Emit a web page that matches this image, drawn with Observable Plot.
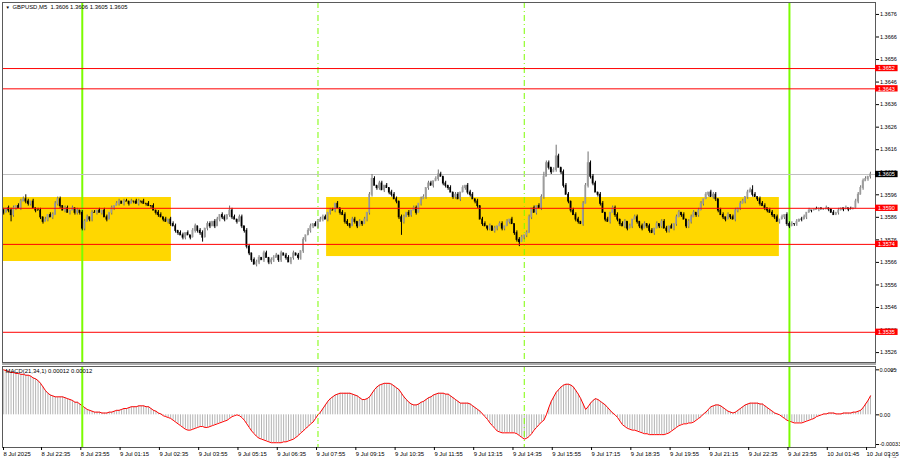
<!DOCTYPE html>
<html><head><meta charset="utf-8">
<script src="https://cdn.jsdelivr.net/npm/d3@7"></script>
<script src="https://cdn.jsdelivr.net/npm/@observablehq/plot@0.6"></script>
<style>
html,body{margin:0;padding:0;background:#fff;}
#wrap{width:900px;height:460px;position:relative;overflow:hidden;}
#sep{height:2px;background:#ababab;width:874px;margin-left:2px;}
svg{display:block;}
</style></head><body><div id="wrap"></div>
<script>
// ---- data ----
const symbolTitle = "GBPUSD,M5  1.3606 1.3606 1.3605 1.3605";
const macdTitle = "MACD(21,34,1) 0.00012 0.00012";
const priceBase = 1.35;          // closes are pips above this
const firstOpen = 89;
const closesText = `
88 90 89 87 90 91 90 93 94 93
92 93 90 89 89 86 84 85 87 86
87 92 94 91 89 90 88 89 90 88
89 88 81 84 86 85 88 88 89 88
89 86 85 88 90 91 92 93 92 93
93 92 93 93 92 93 93 92 92 91
91 89 88 87 86 85 84 85 83 82
80 79 78 77 79 78 77 80 82 80
79 77 81 83 82 84 82 85 87 86
85 87 89 86 85 84 86 82 80 73
70 67 65 66 68 67 70 68 66 67
68 69 67 70 69 68 66 68 70 69
68 71 76 78 80 82 83 82 84 85
86 85 88 89 89 92 90 88 87 84
83 82 85 84 82 84 83 85 88 96
103 100 99 101 98 100 99 97 96 94
93 86 84 86 88 87 89 90 88 92
94 95 99 101 100 102 103 105 104 101
100 99 97 95 96 94 97 99 100 97
96 94 93 91 85 83 82 81 82 80
81 82 83 81 82 84 85 83 79 76
75 77 78 79 86 90 88 91 90 95
104 110 108 106 107 113 108 106 100 96
93 89 87 85 84 83 92 100 110 104
101 97 96 92 88 85 84 88 90 87
85 83 82 84 81 82 85 86 84 82
81 83 82 80 79 81 83 82 84 81
80 82 81 83 86 88 87 85 82 84
86 88 87 89 92 94 96 97 95 96
94 89 87 86 85 87 86 85 89 90
92 93 95 97 98 96 95 94 92 91
90 89 88 87 86 84 85 86 87 83
82 83 83 84 85 85 86 88 89 89
89.5 89.5 90 89.5 89.5 90 89.5 88 87 88
89 90 89.5 90 89.5 89.5 90 93 96 99
102 103 104 105`;
const upperWickText = `
1011101112 1010110101 1111011010 1011101101 0110101101 1010110101 0101101011 1011010110 1101101101 1021101101
1011101101 1101011010 1010110111 1101101011 1011010101 2101101011 1011010110 1101101210 1010110101 1101011010
1011010101 1101101011 2110151011 1011101151 1101101011 1011010110 1101101011 1010110101 1101101011 1011010110
1101121011 1011010101 1101011010 0100010010 1001010111 1101`;
const lowerWickText = `
1013110101 1101011010 1011010101 1111011010 1010110101 0101011010 1011010110 1101101011 1201101011 1011010111
1101101011 1011010110 1111011010 1011010101 1101101011 1011010110 1161011010 1011010101 1101101011 1011010110
1101101011 2011010101 1011010110 1101101011 1011010101 1101101011 1011010110 1101101011 1011010101 1101101011
1011010110 1101101011 1011010101 0010001000 1010100010 1011`;
// MACD in units of 0.00001
const macdText = `
50 49 48 47 47 46 46 45 45 44
44 43 41 40 38 35 31 27 24 22
21 20 20 20 20 19 18 17 16 14
14 12 10 8 6 5 4 3 3 3
2 2 2 3 3 4 5 5 6 7
7 8 9 9 9 10 10 10 9 9
7 5 4 2 1 -1 -2 -3 -4 -6
-8 -10 -12 -14 -16 -17 -17 -16 -15 -14
-13 -13 -14 -14 -13 -12 -11 -10 -9 -8
-7 -6 -4 -2 -1 0 -1 -3 -6 -10
-14 -18 -21 -24 -26 -27 -28 -29 -30 -31
-31 -31 -31 -31 -30 -30 -29 -28 -27 -25
-23 -20 -18 -15 -13 -10 -8 -4 0 3
7 11 15 18 20 22 23 24 24 24
24 24 23 22 21 19 17 17 18 20
24 28 31 33 34 35 35 35 34 32
30 28 24 20 17 14 12 11 11 12
14 15 17 19 20 22 23 24 24 24
23 23 21 19 17 15 13 13 13 13
12 10 8 6 4 1 -2 -5 -9 -12
-15 -18 -19 -20 -20 -20 -20 -20 -20 -21
-23 -25 -27 -26 -24 -21 -17 -14 -11 -8
-6 0 8 15 20 25 28 31 33 34
34 33 31 27 23 18 12 6 9 13
16 18 17 15 13 11 8 5 2 0
-3 -7 -11 -13 -15 -16 -17 -17 -18 -19
-20 -21 -21 -22 -22 -22 -22 -22 -22 -22
-21 -20 -18 -16 -14 -12 -11 -10 -10 -9
-9 -8 -6 -4 -2 1 3 6 9 10
11 11 10 8 6 4 3 2 3 5
7 9 11 12 13 13 13 13 12 12
10 8 6 4 2 1 0 -2 -4 -6
-7 -8 -9 -9 -9 -9 -8 -7 -6 -5
-4 -2 -1 0 1 1 2 2 2 1
1 1 2 2 2 2 3 3 4 5
8 12 16 21`;
const timeLabels = ["8 Jul 2025","8 Jul 22:35","8 Jul 23:55","9 Jul 01:15","9 Jul 02:35","9 Jul 03:55","9 Jul 05:15","9 Jul 06:35","9 Jul 07:55","9 Jul 09:15","9 Jul 10:35","9 Jul 11:55","9 Jul 13:15","9 Jul 14:35","9 Jul 15:55","9 Jul 17:15","9 Jul 18:35","9 Jul 19:55","9 Jul 21:15","9 Jul 22:35","9 Jul 23:55","10 Jul 01:45","10 Jul 03:05"];
const timeLabelBars = [-0.49,15,31,47,63,79,95,111,127,143,159,175,191,207,223,239,255,271,287,303,319,335,351];
const priceTicks = [1.3526,1.3536,1.3546,1.3556,1.3566,1.3576,1.3586,1.3596,1.3606,1.3616,1.3626,1.3636,1.3646,1.3656,1.3666,1.3676];
const levels = [1.3652,1.3643,1.3590,1.3574,1.3535];
const lastPrice = 1.3605;
const zoneStart = [-0.49,131.5];
const zoneEnd = [68.3,315.9];
const zoneTop = [1.35948,1.35948];
const zoneBottom = [1.35664,1.35686];
const dayLines = [32,320];
const sessionLines = [128,212];
const macdTicks = [0.0005,0,-0.00033];
const macdTickLabels = ["0.0005","0.00","-0.00033"];

// ---- build ----
const pip = 0.0001;
const closes = closesText.trim().split(/\s+/).map(Number);
const uw = upperWickText.replace(/\s/g,"");
const lw = lowerWickText.replace(/\s/g,"");
const candles = closes.map((c,i)=>{
  const o = i ? closes[i-1] : firstOpen;
  const hi = Math.max(o,c) + (+uw[i]||0);
  const lo = Math.min(o,c) - (+lw[i]||0);
  return {i, o: priceBase+o*pip, c: priceBase+c*pip, h: priceBase+hi*pip, l: priceBase+lo*pip, up: c>o};
});
const upC = candles.filter(d=>d.up), dnC = candles.filter(d=>!d.up);
const macd = macdText.trim().split(/\s+/).map(Number).map((v,i)=>({i, v: v*1e-5}));
const zones = zoneStart.map((s,k)=>({x1:s, x2:zoneEnd[k], y1:zoneBottom[k], y2:zoneTop[k]}));
const labelMap = new Map(timeLabelBars.map((b,k)=>[b,timeLabels[k]]));
const macdLabelMap = new Map(macdTicks.map((b,k)=>[b,macdTickLabels[k]]));

const xDom = [-0.49, 355.05];
const fsAxis = 5.5;   // right price scale
const fsText = 5.9;   // titles and time scale
const font = '"Liberation Sans", Arial, sans-serif';
const green = "#7cfc00";

const p1 = Plot.plot({
  width: 900, height: 363, marginLeft: 2, marginRight: 25, marginTop: 2, marginBottom: 1,
  x: {domain: xDom, axis: null},
  y: {domain: [1.35216, 1.36813]},
  style: {fontFamily: font, background: "#fff", overflow: "visible"},
  marks: [
    Plot.rect(zones, {x1:"x1", x2:"x2", y1:"y1", y2:"y2", fill:"#ffd700"}),
    Plot.ruleX(dayLines, {stroke: green, strokeWidth: 2}),
    Plot.ruleX(sessionLines, {stroke: green, strokeWidth: 1, strokeDasharray: "6,3,1,3"}),
    Plot.ruleY([lastPrice], {stroke: "#c0c0c0"}),
    Plot.ruleX(upC, {x:"i", y1:"l", y2:"h", stroke:"#6e6e6e", strokeWidth:1}),
    Plot.ruleX(dnC, {x:"i", y1:"l", y2:"h", stroke:"#000", strokeWidth:1}),
    Plot.rect(upC, {x1: d=>d.i-0.32, x2: d=>d.i+0.32, y1:"o", y2:"c", fill:"#9c9c9c", insetTop:-0.5, insetBottom:-0.5}),
    Plot.rect(dnC, {x1: d=>d.i-0.32, x2: d=>d.i+0.32, y1:"c", y2:"o", fill:"#000", insetTop:-0.5, insetBottom:-0.5}),
    Plot.ruleY(levels, {stroke: "#ff0000", strokeWidth: 1}),
    Plot.frame({stroke: "#5a5a5a"}),
    Plot.axisY({ticks: priceTicks, anchor: "right", tickSize: 3, tickPadding: 1.5, fontSize: fsAxis, tickFormat: d=>d.toFixed(4), stroke: "#000", fill:"#000"}),
    Plot.rect(levels, {x1: ()=>xDom[1], x2: ()=>xDom[1]+9.2, y1: d=>d-0.00014, y2: d=>d+0.00014, fill: "#ff0000"}),
    Plot.text(levels, {y: d=>d, text: d=>d.toFixed(4), frameAnchor: "right", dx: 2.5, textAnchor: "start", fill: "#fff", fontSize: fsAxis}),
    Plot.rect([lastPrice], {x1: ()=>xDom[1], x2: ()=>xDom[1]+9.2, y1: d=>d-0.00014, y2: d=>d+0.00014, fill: "#000"}),
    Plot.text([lastPrice], {y: d=>d, text: d=>d.toFixed(4), frameAnchor: "right", dx: 2.5, textAnchor: "start", fill: "#fff", fontSize: fsAxis}),
    Plot.text(["\u25BC"], {text: d=>d, frameAnchor: "top-left", dx: 3, dy: 3, fontSize: 4.5, textAnchor: "start", fill: "#000"}),
    Plot.text([symbolTitle], {text: d=>d, frameAnchor: "top-left", dx: 10, dy: 2, fontSize: fsText, textAnchor: "start", fill: "#000"})
  ]
});

const p2 = Plot.plot({
  width: 900, height: 95, marginLeft: 2, marginRight: 25, marginTop: 1, marginBottom: 13,
  x: {domain: xDom},
  y: {domain: [-0.000363, 0.000537]},
  style: {fontFamily: font, background: "#fff", overflow: "visible"},
  marks: [
    Plot.ruleX(macd, {x: "i", y1: ()=>0, y2: "v", stroke: "#b4b4b4", strokeWidth: 1}),
    Plot.line(macd, {x: "i", y: "v", stroke: "#ff0000", strokeWidth: 1}),
    Plot.ruleX(dayLines, {stroke: green, strokeWidth: 2}),
    Plot.ruleX(sessionLines, {stroke: green, strokeWidth: 1, strokeDasharray: "6,3,1,3"}),
    Plot.frame({stroke: "#5a5a5a"}),
    Plot.axisY({ticks: macdTicks, anchor: "right", tickSize: 3, tickPadding: 1, fontSize: fsAxis, tickFormat: d=>macdLabelMap.get(d), stroke:"#000", fill:"#000"}),
    Plot.axisX({ticks: timeLabelBars, anchor: "bottom", tickSize: 3, tickPadding: 1, fontSize: fsText, textAnchor: "start", dx: 1, tickFormat: d=>labelMap.get(d), stroke:"#000", fill:"#000"}),
    Plot.text([macdTitle], {text: d=>d, frameAnchor: "top-left", dx: 3, dy: 2, fontSize: fsText, textAnchor: "start", fill: "#000"})
  ]
});

const wrap = document.getElementById("wrap");
wrap.appendChild(p1);
const sep = document.createElement("div"); sep.id = "sep"; wrap.appendChild(sep);
wrap.appendChild(p2);
</script>
</body></html>
